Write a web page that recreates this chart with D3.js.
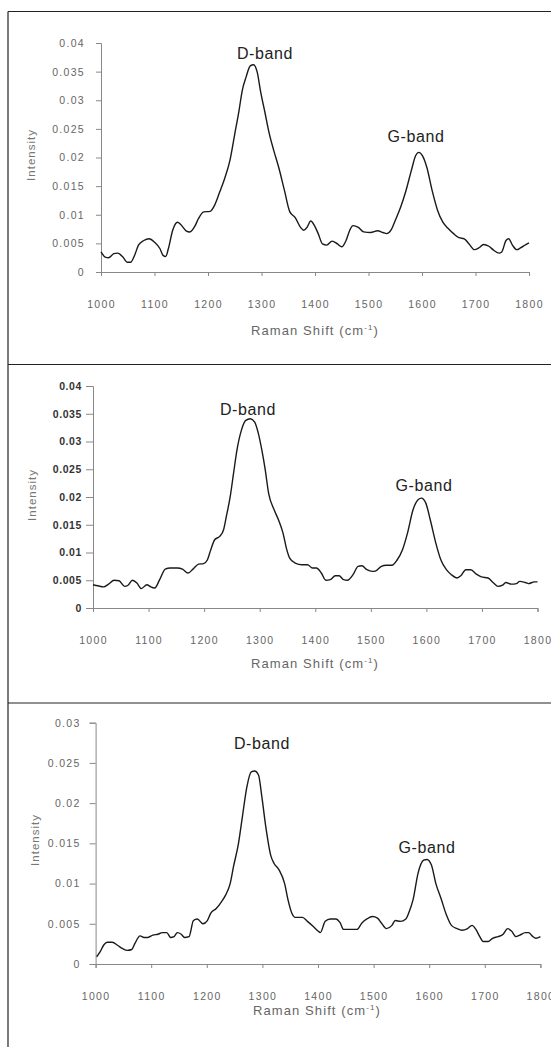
<!DOCTYPE html>
<html>
<head>
<meta charset="utf-8">
<script src="https://cdn.jsdelivr.net/npm/d3@7"></script>
<style>
  body { margin: 0; background: #fff; }
  svg { display: block; font-family: "Liberation Sans", Arial, sans-serif; }
</style>
</head>
<body>
<svg id="chart"></svg>
<script>
// Raman spectra, three samples
const xTicks = [1000, 1100, 1200, 1300, 1400, 1500, 1600, 1700, 1800];
const yTicksA = [0, 0.005, 0.01, 0.015, 0.02, 0.025, 0.03, 0.035, 0.04];
const yTicksC = [0, 0.005, 0.01, 0.015, 0.02, 0.025, 0.03];
const bandLabels = ["D-band", "G-band"];

const shift1 = [1000,1008,1014,1024,1031,1041,1049,1055,1064,1070,1080,1090,1100,1110,1116,1121,1126,1134,1143,1149,1159,1166,1176,1182,1192,1204,1212,1222,1231,1241,1250,1258,1264,1271,1279,1285,1292,1298,1307,1314,1323,1333,1343,1353,1363,1373,1379,1385,1392,1399,1406,1414,1422,1432,1442,1450,1458,1465,1471,1481,1491,1504,1517,1527,1534,1542,1550,1560,1570,1580,1588,1594,1601,1609,1619,1629,1639,1649,1659,1669,1679,1688,1698,1706,1715,1725,1734,1744,1749,1757,1762,1769,1777,1784,1794,1800];
const int1 = [0.0035,0.0026,0.0025,0.0032,0.0033,0.0026,0.0017,0.0017,0.0032,0.0047,0.0055,0.0058,0.0052,0.0041,0.0029,0.0027,0.0041,0.0073,0.0087,0.0083,0.0072,0.0070,0.0081,0.0093,0.0105,0.0106,0.0116,0.0140,0.0163,0.0195,0.0241,0.0282,0.0317,0.0340,0.0360,0.0362,0.0349,0.0317,0.0276,0.0244,0.0212,0.0180,0.0142,0.0105,0.0095,0.0078,0.0073,0.0078,0.0089,0.0081,0.0067,0.0049,0.0047,0.0054,0.0049,0.0044,0.0055,0.0073,0.0081,0.0078,0.0070,0.0069,0.0072,0.0069,0.0067,0.0073,0.0090,0.0113,0.0142,0.0177,0.0203,0.0209,0.0203,0.0183,0.0142,0.0108,0.0087,0.0076,0.0067,0.0060,0.0058,0.0049,0.0039,0.0042,0.0048,0.0045,0.0038,0.0033,0.0035,0.0055,0.0058,0.0047,0.0039,0.0042,0.0048,0.0051];

const shift2 = [1000,1009,1019,1028,1038,1047,1057,1063,1071,1079,1087,1097,1104,1111,1120,1130,1139,1152,1161,1171,1180,1190,1199,1206,1212,1219,1228,1235,1240,1247,1253,1259,1267,1275,1283,1291,1297,1304,1310,1316,1326,1335,1342,1348,1354,1364,1376,1386,1395,1402,1411,1419,1427,1436,1443,1451,1458,1468,1477,1484,1493,1503,1509,1519,1528,1538,1547,1557,1566,1576,1585,1591,1599,1607,1617,1626,1636,1645,1655,1662,1671,1680,1690,1699,1711,1721,1729,1737,1743,1753,1762,1768,1778,1784,1794,1800];
const int2 = [0.0042,0.0040,0.0038,0.0043,0.0050,0.0049,0.0039,0.0041,0.0050,0.0045,0.0035,0.0042,0.0038,0.0036,0.0051,0.0070,0.0072,0.0072,0.0070,0.0063,0.0070,0.0079,0.0080,0.0087,0.0105,0.0123,0.0129,0.0141,0.0165,0.0201,0.0243,0.0284,0.0320,0.0338,0.0341,0.0335,0.0317,0.0284,0.0249,0.0207,0.0177,0.0156,0.0135,0.0108,0.0090,0.0081,0.0078,0.0078,0.0072,0.0072,0.0063,0.0050,0.0051,0.0058,0.0058,0.0051,0.0050,0.0060,0.0075,0.0076,0.0069,0.0066,0.0067,0.0075,0.0077,0.0077,0.0086,0.0105,0.0135,0.0177,0.0195,0.0198,0.0189,0.0159,0.0117,0.0087,0.0069,0.0060,0.0054,0.0058,0.0069,0.0069,0.0061,0.0056,0.0054,0.0045,0.0039,0.0041,0.0046,0.0043,0.0044,0.0048,0.0046,0.0044,0.0047,0.0047];

const shift3 = [1002,1008,1015,1021,1030,1040,1049,1057,1065,1071,1080,1087,1094,1103,1112,1120,1128,1135,1141,1147,1154,1160,1168,1176,1183,1193,1201,1207,1217,1226,1234,1242,1248,1257,1264,1272,1280,1286,1293,1299,1306,1315,1321,1330,1340,1346,1353,1359,1372,1381,1391,1400,1404,1413,1422,1432,1440,1446,1460,1470,1479,1488,1498,1507,1514,1523,1533,1539,1548,1558,1564,1571,1580,1590,1596,1604,1612,1621,1631,1640,1650,1659,1669,1677,1684,1691,1697,1706,1714,1724,1733,1741,1748,1756,1763,1773,1779,1785,1792,1800];
const int3 = [0.0009,0.0015,0.0024,0.0027,0.0027,0.0023,0.0019,0.0017,0.0018,0.0026,0.0035,0.0033,0.0033,0.0036,0.0037,0.0039,0.0039,0.0033,0.0034,0.0039,0.0037,0.0033,0.0034,0.0054,0.0056,0.0050,0.0054,0.0063,0.0069,0.0077,0.0086,0.0100,0.0121,0.0150,0.0183,0.0220,0.0239,0.0240,0.0235,0.0208,0.0171,0.0135,0.0125,0.0117,0.0100,0.0080,0.0063,0.0058,0.0058,0.0053,0.0047,0.0041,0.0039,0.0053,0.0056,0.0056,0.0051,0.0043,0.0043,0.0043,0.0051,0.0056,0.0059,0.0057,0.0051,0.0044,0.0048,0.0054,0.0053,0.0056,0.0065,0.0080,0.0113,0.0129,0.0130,0.0123,0.0100,0.0082,0.0061,0.0048,0.0044,0.0042,0.0044,0.0048,0.0043,0.0034,0.0028,0.0028,0.0032,0.0034,0.0037,0.0044,0.0041,0.0034,0.0036,0.0039,0.0039,0.0035,0.0032,0.0034];

const width = 551;
const height = 1047;

const svg = d3.select("#chart")
    .attr("width", width)
    .attr("height", height);

// frame lines of the three boxes
const frame = svg.append("g").attr("stroke", "#222").attr("stroke-width", 1.2).attr("fill", "none");
frame.append("line").attr("x1", 8).attr("x2", 8).attr("y1", 11.5).attr("y2", height);
[11.5, 364.5, 703].forEach(y => {
    frame.append("line").attr("x1", 8).attr("x2", width).attr("y1", y).attr("y2", y);
});

const panels = [
    { xs: shift1, ys: int1, yTicks: yTicksA, yMax: 0.04,
      left: 101, right: 529, top: 43, bottom: 272,
      yTickSize: 5, yPad: 11, yBold: false,
      titleX: 315, titleY: 330, intX: 31, intY: 155,
      labels: [[265, 53], [416, 136]] },
    { xs: shift2, ys: int2, yTicks: yTicksA, yMax: 0.04,
      left: 93, right: 537.5, top: 386, bottom: 608,
      yTickSize: 7, yPad: 4, yBold: true,
      titleX: 315, titleY: 663, intX: 32, intY: 495,
      labels: [[248, 409], [424, 485]] },
    { xs: shift3, ys: int3, yTicks: yTicksC, yMax: 0.03,
      left: 95.6, right: 540.4, top: 722.7, bottom: 964,
      yTickSize: 6, yPad: 9, yBold: false,
      titleX: 317, titleY: 1010, intX: 35, intY: 840,
      labels: [[262, 743], [427, 847]] }
];

const fmt = d => d === 0 ? "0" : String(+d.toFixed(3));

panels.forEach(p => {
    const x = d3.scaleLinear().domain([1000, 1800]).range([p.left, p.right]);
    const y = d3.scaleLinear().domain([0, p.yMax]).range([p.bottom, p.top]);
    const g = svg.append("g");

    const xAxis = d3.axisBottom(x).tickValues(xTicks).tickFormat(d3.format("d"))
        .tickSizeOuter(0).tickSize(4).tickPadding(25);
    const gx = g.append("g")
        .attr("transform", "translate(0," + p.bottom + ")")
        .call(xAxis);
    gx.select(".domain").attr("stroke", "#888");
    gx.selectAll(".tick line").attr("stroke", "#888");
    gx.selectAll(".tick text")
        .attr("fill", "#666")
        .attr("font-size", "10.5px")
        .attr("letter-spacing", "1.3px")
        .attr("font-family", "Liberation Sans, Arial, sans-serif");

    const yAxis = d3.axisLeft(y).tickValues(p.yTicks).tickFormat(fmt)
        .tickSizeOuter(0).tickSize(p.yTickSize).tickPadding(p.yPad);
    const gy = g.append("g")
        .attr("transform", "translate(" + p.left + ",0)")
        .call(yAxis);
    gy.select(".domain").attr("stroke", "#888");
    gy.selectAll(".tick line").attr("stroke", "#888");
    gy.selectAll(".tick text")
        .attr("fill", p.yBold ? "#333" : "#666")
        .attr("font-weight", p.yBold ? "bold" : "normal")
        .attr("font-size", "10.5px")
        .attr("letter-spacing", p.yBold ? "0.6px" : "1.3px")
        .attr("font-family", "Liberation Sans, Arial, sans-serif");

    const line = d3.line()
        .x((d, i) => x(p.xs[i]))
        .y(d => y(d))
        .curve(d3.curveMonotoneX);

    g.append("path")
        .datum(p.ys)
        .attr("fill", "none")
        .attr("stroke", "#1a1a1a")
        .attr("stroke-width", 1.4)
        .attr("d", line);

    // axis titles
    const title = g.append("text")
        .attr("x", p.titleX)
        .attr("y", p.titleY)
        .attr("dy", "0.35em")
        .attr("text-anchor", "middle")
        .attr("fill", "#666")
        .attr("font-size", "13px")
        .attr("letter-spacing", "1.1px");
    title.append("tspan").text("Raman Shift (cm");
    title.append("tspan").attr("font-size", "8px").attr("dy", "-5").text("-1");
    title.append("tspan").attr("dy", "5").text(")");

    g.append("text")
        .attr("transform", "translate(" + p.intX + "," + p.intY + ") rotate(-90)")
        .attr("dy", "0.35em")
        .attr("text-anchor", "middle")
        .attr("fill", "#777")
        .attr("font-size", "11.5px")
        .attr("letter-spacing", "1px")
        .text("Intensity");

    // band annotations
    p.labels.forEach((pos, i) => {
        g.append("text")
            .attr("x", pos[0])
            .attr("y", pos[1])
            .attr("dy", "0.35em")
            .attr("text-anchor", "middle")
            .attr("fill", "#222")
            .attr("font-size", "16px")
            .attr("letter-spacing", "0.6px")
            .text(bandLabels[i]);
    });
});
</script>
</body>
</html>
